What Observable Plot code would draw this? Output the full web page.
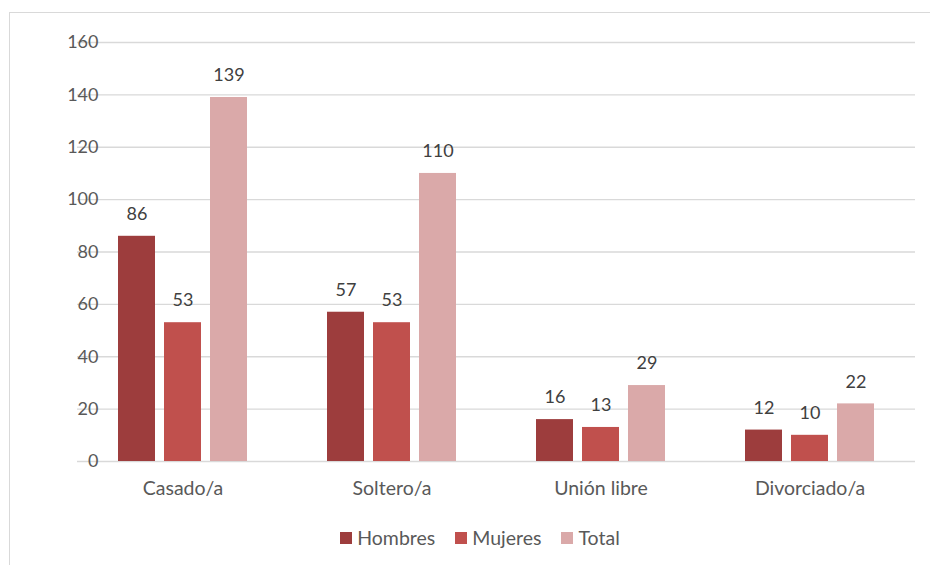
<!DOCTYPE html>
<html><head><meta charset="utf-8">
<script src="https://cdn.jsdelivr.net/npm/d3@7"></script>
<script src="https://cdn.jsdelivr.net/npm/@observablehq/plot@0.6"></script>
<style>
body{margin:0;background:#fff;font-family:Lato,sans-serif}
#wrap{position:relative;width:930px;height:565px;overflow:hidden}
#frame{position:absolute;left:9px;top:12px;width:940px;height:570px;border-left:1.5px solid #d9d9d9;border-top:1.5px solid #d9d9d9}
#grid,#chart{position:absolute;left:0;top:0}
#legend{position:absolute;top:526px;left:15px;width:930px;display:flex;justify-content:center;gap:20px;font-size:19.5px;color:#595959;font-family:Lato,sans-serif}
#legend span.item{display:flex;align-items:center;gap:5px}
#legend span.sw{display:inline-block;width:12px;height:12px}
</style></head>
<body>
<div id="wrap"><div id="frame"></div><div id="grid"></div><div id="chart"></div><div id="legend"></div></div>
<script>
const categories = ["Casado/a","Soltero/a","Unión libre","Divorciado/a"];
const series = ["Hombres","Mujeres","Total"];
const hombres = [86,57,16,12];
const mujeres = [53,53,13,10];
const total = [139,110,29,22];
const colors = ["#9d3d3d","#c0504d","#daa9a9"];
const yTicks = [0,20,40,60,80,100,120,140,160];

const values = [hombres, mujeres, total];
const data = [];
categories.forEach((c,i)=>series.forEach((s,j)=>data.push({category:c, series:s, value:values[j][i]})));

const common = {
  width: 930, height: 510,
  marginLeft: 77, marginRight: 15, marginTop: 42, marginBottom: 49,
  style: {fontFamily:"Lato, sans-serif", fontSize:"18px", color:"#595959", background:"transparent"}
};

const grid = Plot.plot({
  ...common,
  x: {axis: null},
  y: {domain: [0,160], axis: null},
  marks: [Plot.ruleY(yTicks, {stroke:"#d9d9d9", strokeWidth:1.4})]
});
document.getElementById("grid").appendChild(grid);

const chart = Plot.plot({
  ...common,
  fx: {domain: categories, paddingInner: 0.383, paddingOuter: 0.19, axis: null},
  x: {domain: series, paddingInner: 0.2, paddingOuter: 0, axis: null},
  y: {domain: [0,160], ticks: yTicks, tickSize: 0, tickPadding: 20, label: null},
  color: {domain: series, range: colors},
  marks: [
    Plot.axisFx({domain: categories, anchor: "bottom", tickSize: 0, tickPadding: 20, label: null, fontSize: 19.5}),
    Plot.barY(data, {fx:"category", x:"series", y:"value", fill:"series"}),
    Plot.text(data, {fx:"category", x:"series", y:"value", text:d=>String(d.value), dy:-22, fill:"#404040", fontSize:18})
  ]
});
document.getElementById("chart").appendChild(chart);

const legend = document.getElementById("legend");
series.forEach((s,j)=>{
  const item = document.createElement("span"); item.className="item";
  const sw = document.createElement("span"); sw.className="sw"; sw.style.background = colors[j];
  const t = document.createElement("span"); t.textContent = s;
  item.appendChild(sw); item.appendChild(t); legend.appendChild(item);
});
</script>
</body></html>
